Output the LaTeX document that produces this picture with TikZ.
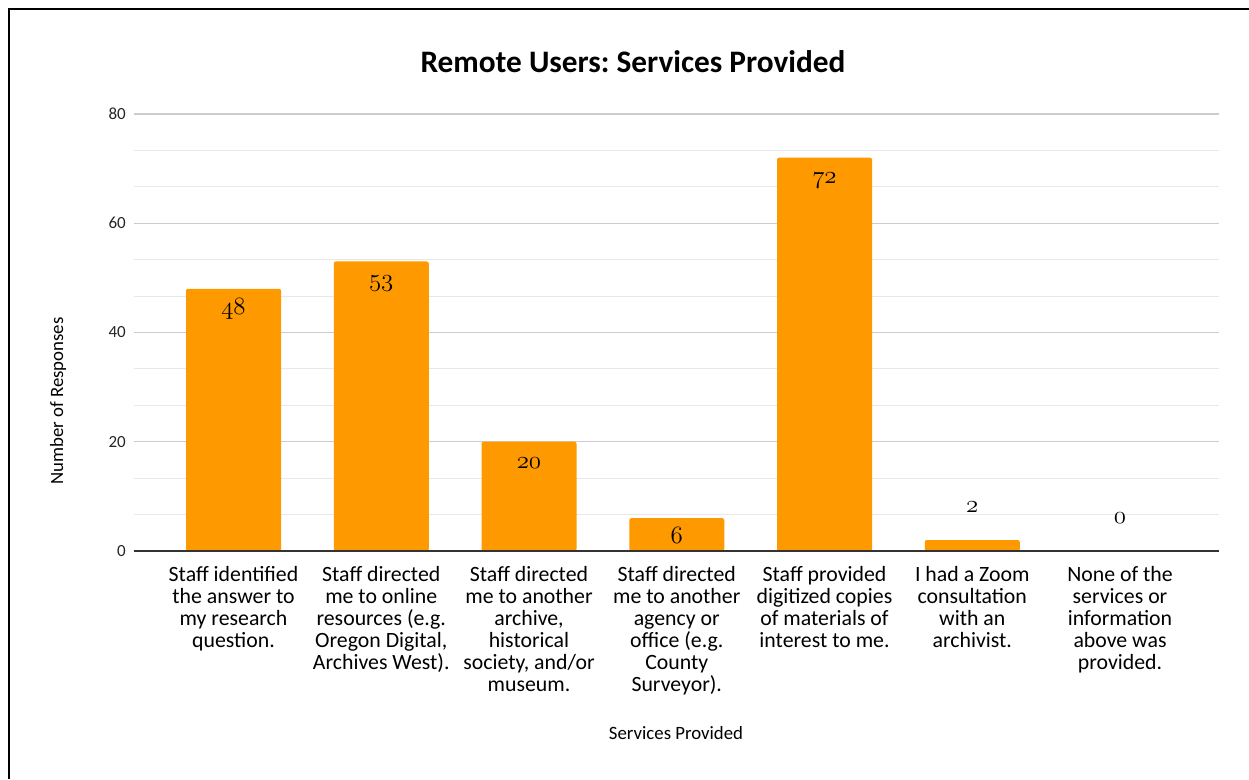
\documentclass[tikz,border=0pt]{standalone}
\usepackage{fontspec}
\setmainfont{Carlito}
\frenchspacing
\definecolor{barorange}{RGB}{255,153,0}
\definecolor{gridmajor}{RGB}{204,204,204}
\definecolor{gridminor}{RGB}{232,232,232}
\definecolor{axisgray}{RGB}{51,51,51}
\newcommand{\valnum}[1]{{\fontsize{24.88}{26}\usefont{OML}{cmm}{m}{it}#1}}
\tikzset{
 bar/.style={fill=barorange,rounded corners=2pt},
 minorgrid/.style={gridminor,line width=1pt},
 majorgrid/.style={gridmajor,line width=1.3pt},
 catlabel/.style={anchor=north,align=center,inner sep=0pt,font=\fontsize{21.8}{22}\selectfont},
 ticklabel/.style={anchor=east,inner sep=0pt,font=\fontsize{17}{17}\selectfont,text=black!85},
 vallabel/.style={inner sep=0pt},
 axistitle/.style={inner sep=0pt,font=\fontsize{18.8}{18.8}\selectfont},
}
\begin{document}
\begin{tikzpicture}[x=1pt,y=1pt]
 \useasboundingbox (0,0) rectangle (1249,779);
 % frame
 \draw[line width=2.5pt] (9,0) -- (9,770) -- (1249,770);
 \node[font=\fontsize{31.3}{31.3}\selectfont\bfseries] (title) at (633,717) {Remote Users: Services Provided};
 \begin{scope}[shift={(0,228)},y=5.4625pt]
 % grid
 \draw[minorgrid](134,6.667)--(1219,6.667);
 \draw[minorgrid](134,13.333)--(1219,13.333);
 \draw[minorgrid](134,26.667)--(1219,26.667);
 \draw[minorgrid](134,33.333)--(1219,33.333);
 \draw[minorgrid](134,46.667)--(1219,46.667);
 \draw[minorgrid](134,53.333)--(1219,53.333);
 \draw[minorgrid](134,66.667)--(1219,66.667);
 \draw[minorgrid](134,73.333)--(1219,73.333);
 \draw[majorgrid](134,20)--(1219,20);
 \draw[majorgrid](134,40)--(1219,40);
 \draw[majorgrid](134,60)--(1219,60);
 \draw[majorgrid](134,80)--(1219,80);
 % bars
 \fill[bar](186,0) rectangle (281,48);
 \fill[bar](333.75,0) rectangle (428.75,53);
 \fill[bar](481.5,0) rectangle (576.5,20);
 \fill[bar](629.25,0) rectangle (724.25,6);
 \fill[bar](777,0) rectangle (872,72);
 \fill[bar](924.75,0) rectangle (1019.75,2);
 \draw[axisgray,line width=1.4pt](134,0)--(1219,0);
 % values
 \node[vallabel] (v1) at (233.5,44.3) {\valnum{48}};
 \node[vallabel] (v2) at (381.25,48.9) {\valnum{53}};
 \node[vallabel] (v3) at (529,16.1) {\valnum{20}};
 \node[vallabel] (v4) at (676.75,2.9) {\valnum{6}};
 \node[vallabel] (v5) at (824.5,67.9) {\valnum{72}};
 \node[vallabel] (v6) at (972.25,8.05) {\valnum{2}};
 \node[vallabel] (v7) at (1120,6.04) {\valnum{0}};
 % ticks
 \node[ticklabel] (t0) at (126,0) {0};
 \node[ticklabel] (t20) at (126,20) {20};
 \node[ticklabel] (t40) at (126,40) {40};
 \node[ticklabel] (t60) at (126,60) {60};
 \node[ticklabel] (t80) at (126,80) {80};
 \end{scope}
 % categories
 \node[catlabel] (c1) at (233.5,212.5) {Staff identified\\the answer to\\my research\\question.};
 \node[catlabel] (c2) at (381.25,212.5) {Staff directed\\me to online\\resources (e.g.\\Oregon Digital,\\Archives West).};
 \node[catlabel] (c3) at (529,212.5) {Staff directed\\me to another\\archive,\\historical\\society, and/or\\museum.};
 \node[catlabel] (c4) at (676.75,212.5) {Staff directed\\me to another\\agency or\\office (e.g.\\County\\Surveyor).};
 \node[catlabel] (c5) at (824.5,212.5) {Staff provided\\digitized copies\\of materials of\\interest to me.};
 \node[catlabel] (c6) at (972.25,212.5) {I had a Zoom\\consultation\\with an\\archivist.};
 \node[catlabel] (c7) at (1120,212.5) {None of the\\services or\\information\\above was\\provided.};
 \node[axistitle] (xtitle) at (676,46) {Services Provided};
 \node[axistitle,rotate=90] (ytitle) at (58,378) {Number of Responses};
\end{tikzpicture}
\end{document}
